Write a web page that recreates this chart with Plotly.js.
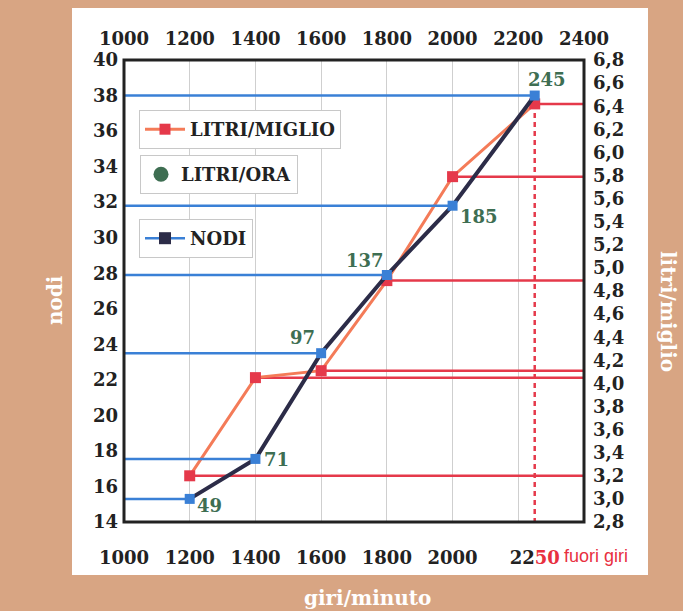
<!DOCTYPE html>
<html><head><meta charset="utf-8">
<script src="https://cdn.plot.ly/plotly-3.0.1.min.js"></script>
<style>html,body{margin:0;padding:0;background:#d8a583;}#chart{width:683px;height:611px;}</style>
</head><body><div id="chart"></div>
<script>
// ---- data ----
const rpm = [1200, 1400, 1600, 1800, 2000, 2250];
const nodi = [15.3, 17.55, 23.5, 27.9, 31.8, 38.0];
const litriMiglio = [3.2, 4.05, 4.11, 4.89, 5.79, 6.42];
const litriOra = [49, 71, 97, 137, 185, 245];

const topTickVals = [1000, 1200, 1400, 1600, 1800, 2000, 2200, 2400];
const topTickText = ['1000', '1200', '1400', '1600', '1800', '2000', '2200', '2400'];
const bottomTickVals = [1000, 1200, 1400, 1600, 1800, 2000, 2250];
const bottomTickText = ['1000', '1200', '1400', '1600', '1800', '2000', '22<span style="color:#e8303f">50</span>'];
const nodiTickVals = [14, 16, 18, 20, 22, 24, 26, 28, 30, 32, 34, 36, 38, 40];
const nodiTickText = ['14', '16', '18', '20', '22', '24', '26', '28', '30', '32', '34', '36', '38', '40'];
const litriTickVals = [2.8, 3.0, 3.2, 3.4, 3.6, 3.8, 4.0, 4.2, 4.4, 4.6, 4.8, 5.0, 5.2, 5.4, 5.6, 5.8, 6.0, 6.2, 6.4, 6.6, 6.8];
const litriTickText = ['2,8', '3,0', '3,2', '3,4', '3,6', '3,8', '4,0', '4,2', '4,4', '4,6', '4,8', '5,0', '5,2', '5,4', '5,6', '5,8', '6,0', '6,2', '6,4', '6,6', '6,8'];

const xRange = [1000, 2400];
const nodiRange = [14, 40];
const litriRange = [2.8, 6.8];

// label offsets (pixels) for the LITRI/ORA values, relative to the NODI points
const labelShifts = [[20, -7], [21, -1], [-19, 16], [-22, 15], [26, -11], [12, 16]];

// ---- layout geometry ----
const W = 683, H = 611;
const M = {l: 124, r: 99, t: 60, b: 89};
const PW = W - M.l - M.r, PH = H - M.t - M.b;
const px = v => (v - M.l) / PW;
const py = v => (H - M.b - v) / PH;

const SERIF = '"DejaVu Serif", "Liberation Serif", serif';
const TXT = '#222222';
const RED = '#e5394a', BLUE = '#3a80d6', NAVY = '#2c2c48', ORANGE = '#f47b58', GREEN = '#3e6e52';

// red reference lines (point -> right edge)
const redX = [], redY = [];
rpm.forEach((r, i) => { redX.push(r, xRange[1], null); redY.push(litriMiglio[i], litriMiglio[i], null); });
// blue reference lines (left edge -> point)
const blueX = [], blueY = [];
rpm.forEach((r, i) => { blueX.push(xRange[0], r, null); blueY.push(nodi[i], nodi[i], null); });
const last = rpm.length - 1;

const traces = [
  {x: redX, y: redY, xaxis: 'x', yaxis: 'y', mode: 'lines', line: {color: RED, width: 2.5},
   showlegend: false, hoverinfo: 'skip'},
  {x: [rpm[last], rpm[last]], y: [litriMiglio[last], litriRange[0]], xaxis: 'x', yaxis: 'y', mode: 'lines',
   line: {color: RED, width: 2.5, dash: '5px,4px'}, showlegend: false, hoverinfo: 'skip'},
  {x: rpm, y: litriMiglio, xaxis: 'x', yaxis: 'y', mode: 'lines+markers', name: 'LITRI/MIGLIO',
   line: {color: ORANGE, width: 3}, marker: {symbol: 'square', color: RED, size: 11},
   legend: 'legend', showlegend: true},
  {x: blueX, y: blueY, xaxis: 'x', yaxis: 'y2', mode: 'lines', line: {color: BLUE, width: 2.5},
   showlegend: false, hoverinfo: 'skip'},
  {x: rpm, y: nodi, xaxis: 'x', yaxis: 'y2', mode: 'lines+markers', name: 'NODI',
   line: {color: NAVY, width: 4}, marker: {symbol: 'square', color: BLUE, size: 10},
   showlegend: false},
  // legend-only entries
  {x: [null], y: [null], xaxis: 'x2', yaxis: 'y2', mode: 'markers', name: 'LITRI/ORA',
   marker: {symbol: 'circle', color: GREEN, size: 15}, legend: 'legend2', showlegend: true},
  {x: [null], y: [null], xaxis: 'x', yaxis: 'y2', mode: 'lines+markers', name: 'NODI',
   line: {color: BLUE, width: 2.5}, marker: {symbol: 'square', color: NAVY, size: 12},
   legend: 'legend3', showlegend: true}
];

const tickFont = {family: SERIF, size: 18, color: TXT, weight: 700};
const legendBase = {xanchor: 'left', yanchor: 'top', bgcolor: '#ffffff', bordercolor: '#c8c8c8', borderwidth: 1,
  font: {family: SERIF, size: 18, color: TXT, weight: 700}};

const annotations = rpm.map((r, i) => ({
  x: r, y: nodi[i], xref: 'x', yref: 'y2', text: String(litriOra[i]), showarrow: false,
  xanchor: 'center', yanchor: 'middle', xshift: labelShifts[i][0], yshift: labelShifts[i][1],
  font: {family: SERIF, size: 18, color: GREEN, weight: 700}
}));
annotations.push(
  {x: px(562), y: py(556), xref: 'paper', yref: 'paper', text: 'fuori giri', showarrow: false,
   xanchor: 'left', yanchor: 'middle', font: {family: '"Liberation Sans", Arial, sans-serif', size: 18, color: '#e8303f'}},
  {x: px(55), y: py(300), xref: 'paper', yref: 'paper', text: 'nodi', showarrow: false, textangle: -90,
   xanchor: 'center', yanchor: 'middle', font: {family: SERIF, size: 20, color: '#ffffff', weight: 700}},
  {x: px(668), y: py(311), xref: 'paper', yref: 'paper', text: 'litri/miglio', showarrow: false, textangle: 90,
   xanchor: 'center', yanchor: 'middle', font: {family: SERIF, size: 20, color: '#ffffff', weight: 700}},
  {x: px(367), y: py(598), xref: 'paper', yref: 'paper', text: 'giri/minuto', showarrow: false,
   xanchor: 'center', yanchor: 'middle', font: {family: SERIF, size: 20, color: '#ffffff', weight: 700}}
);

const layout = {
  width: W, height: H, margin: M,
  paper_bgcolor: '#d8a583', plot_bgcolor: '#ffffff',
  font: {family: SERIF, color: TXT},
  xaxis: {range: xRange, tickmode: 'array', tickvals: bottomTickVals, ticktext: bottomTickText,
    showgrid: false, zeroline: false, showline: false, ticks: '', tickfont: tickFont, ticklabelstandoff: 23},
  xaxis2: {range: xRange, overlaying: 'x', side: 'top', anchor: 'y', tickmode: 'array',
    tickvals: topTickVals, ticktext: topTickText, showgrid: true, gridcolor: '#cfcfcf', gridwidth: 1,
    zeroline: false, showline: false, ticks: '', tickfont: tickFont, ticklabelstandoff: 10},
  yaxis: {range: litriRange, side: 'right', tickmode: 'array', tickvals: litriTickVals, ticktext: litriTickText,
    showgrid: false, zeroline: false, showline: false, ticks: '', tickfont: tickFont, ticklabelstandoff: 8},
  yaxis2: {range: nodiRange, side: 'left', overlaying: 'y', anchor: 'x', tickmode: 'array',
    tickvals: nodiTickVals, ticktext: nodiTickText,
    showgrid: false, zeroline: false, showline: false, ticks: '', tickfont: tickFont, ticklabelstandoff: 5},
  legend: Object.assign({}, legendBase, {x: px(139), y: py(110), itemwidth: 40}),
  legend2: Object.assign({}, legendBase, {x: px(140), y: py(155), itemwidth: 30}),
  legend3: Object.assign({}, legendBase, {x: px(139), y: py(219), itemwidth: 40}),
  shapes: [
    {type: 'rect', xref: 'paper', yref: 'paper', x0: px(72), x1: px(648), y0: py(575), y1: py(8),
     fillcolor: '#ffffff', line: {width: 0}, layer: 'below'},
    {type: 'rect', xref: 'paper', yref: 'paper', x0: 0, x1: 1, y0: 0, y1: 1,
     line: {color: '#222222', width: 3}, layer: 'above'}
  ],
  annotations: annotations,
  showlegend: true
};

Plotly.newPlot('chart', traces, layout, {displayModeBar: false, staticPlot: true});
</script>
</body></html>
